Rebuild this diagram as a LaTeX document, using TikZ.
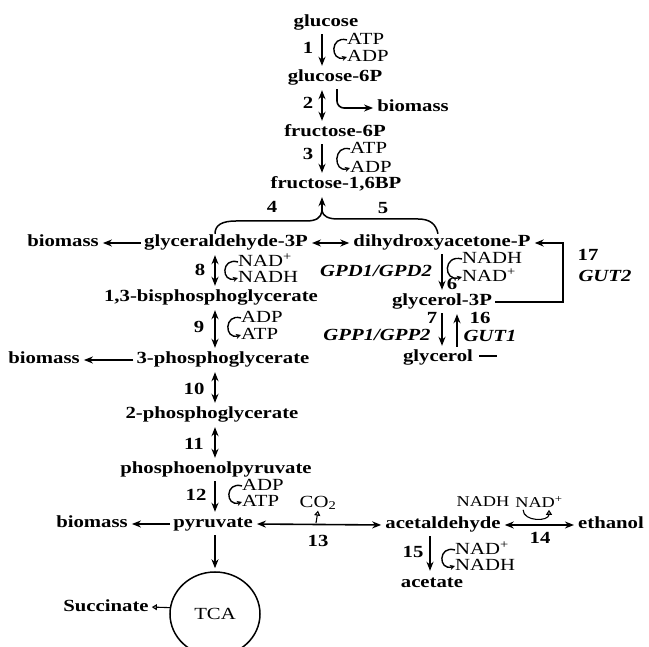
\documentclass[tikz,border=0pt]{standalone}
\usepackage{fontspec}
\setmainfont[FakeStretch=1.22]{Liberation Serif}
\usetikzlibrary{shapes,arrows.meta,calc}

\begin{document}
\fontsize{17}{20}\selectfont
\begin{tikzpicture}[x=1pt,y=1pt]
	%define styles
	\tikzset{
		met/.style={font=\bfseries, inner sep=1pt, text height=12pt, text depth=4pt},
		cof/.style={anchor=west, inner sep=0pt, text height=10pt, text depth=1pt},
		num/.style={font=\bfseries, inner sep=0pt},
		gene/.style={font=\bfseries\itshape, inner sep=0pt},
		arrow/.style={line width=1.6pt,-{Stealth[length=9pt,width=7pt]}, shorten <=2pt, shorten >=3pt},
		dblarrow/.style={line width=1.6pt,{Stealth[length=9pt,width=7pt]}-{Stealth[length=9pt,width=7pt]}, shorten <=3pt, shorten >=3pt},
		curl/.style={line width=1.4pt,-{Stealth[length=5pt,width=5pt]}},
		hollowarrow/.style={line width=1.1pt,-{Triangle[open,length=5pt,width=6pt]}},
	}
	\useasboundingbox (0,0) rectangle (649,-647);
	\clip (0,0) rectangle (649,-647);
	%spines
	\coordinate (lsp) at (215,0);
	\coordinate (msp) at (322,0);
	\coordinate (rsp) at (442,0);
	%define nodes
	\node[met] (glc) at (326,-23) {glucose};
	\node[met] (g6p) at (335,-78) {glucose-6P};
	\node[met] (f6p) at (335,-133) {fructose-6P};
	\node[met] (fbp) at (336,-185) {fructose-1,6BP};
	\node[met] (bm1) at (413,-108) {biomass};
	\node[met] (gap) at (226,-243) {glyceraldehyde-3P};
	\node[met] (dhap) at (442,-243) {dihydroxyacetone-P};
	\node[met] (bm2) at (63,-243) {biomass};
	\node[met] (bpg) at (211,-298) {1,3-bisphosphoglycerate};
	\node[met] (pg3) at (223,-360) {3-phosphoglycerate};
	\node[met] (bm3) at (44,-360) {biomass};
	\node[met] (pg2) at (212,-415) {2-phosphoglycerate};
	\node[met] (pep) at (216,-470) {phosphoenolpyruvate};
	\node[met] (pyr) at (213,-524) {pyruvate};
	\node[met] (bm4) at (92,-524) {biomass};
	\node[met] (acald) at (443,-525) {acetaldehyde};
	\node[met] (etoh) at (611,-525) {ethanol};
	\node[met] (acet) at (432,-583) {acetate};
	\node[met] (g3p) at (442,-302) {glycerol-3P};
	\node[met] (glyc) at (438,-358) {glycerol};
	\node[ellipse, draw, line width=1.5pt, minimum width=90pt, minimum height=84pt] (tca) at (215,-614) {TCA};
	\node[met] (succ) at (106,-607) {Succinate};
	%cofactors
	\node[cof] (atp1) at (347,-40) {ATP};
	\node[cof] (adp1) at (347,-57) {ADP};
	\node[cof] (atp3) at (350,-149) {ATP};
	\node[cof] (adp3) at (350,-168) {ADP};
	\node[cof] (nad8) at (238,-262) {NAD\textsuperscript{+}};
	\node[cof] (nadh8) at (238,-278) {NADH};
	\node[cof] (adp9) at (241,-318) {ADP};
	\node[cof] (atp9) at (241,-335) {ATP};
	\node[cof] (adp12) at (242,-486) {ADP};
	\node[cof] (atp12) at (242,-502) {ATP};
	\node[cof] (nadh6) at (462,-259) {NADH};
	\node[cof] (nad6) at (462,-277) {NAD\textsuperscript{+}};
	\node[cof] (nad15) at (455,-550) {NAD\textsuperscript{+}};
	\node[cof] (nadh15) at (455,-566) {NADH};
	\node[inner sep=0pt, font=\fontsize{15}{17}\selectfont] (nadh14) at (483,-502) {NADH};
	\node[inner sep=0pt, font=\fontsize{15}{17}\selectfont] (nad14) at (539,-502) {NAD\textsuperscript{+}};
	\node[inner sep=0.5pt] (co2) at (318,-503) {CO\textsubscript{2}};
	%reaction numbers and genes
	\node[num] at (308,-48) {1};
	\node[num] at (308,-103) {2};
	\node[num] at (308,-154) {3};
	\node[num] at (272,-207) {4};
	\node[num] at (383,-208) {5};
	\node[num] at (452,-284) {6};
	\node[num] at (432,-318) {7};
	\node[num] at (200,-270) {8};
	\node[num] at (199,-327) {9};
	\node[num] at (194,-389) {10};
	\node[num] at (194,-444) {11};
	\node[num] at (196,-495) {12};
	\node[num] at (318,-541) {13};
	\node[num] at (540,-538) {14};
	\node[num] at (413,-552) {15};
	\node[num] at (480,-318) {16};
	\node[num] at (588,-255) {17};
	\node[gene] at (376,-271) {GPD1/GPD2};
	\node[gene] at (377,-335) {GPP1/GPP2};
	\node[gene] at (490,-336) {GUT1};
	\node[gene] at (605,-276) {GUT2};
	%define arrows
	\draw[arrow] (glc.south -| msp) -- (g6p.north -| msp);
	\draw[dblarrow] (g6p.south -| msp) -- (f6p.north -| msp);
	\draw[arrow, rounded corners=7pt] (g6p.south -| 337,0) |- (bm1.west);
	\draw[arrow] (f6p.south -| msp) -- (fbp.north -| msp);
	\coordinate (merge) at (322,-211);
	\draw[line width=1.5pt] (gap.north -| lsp) .. controls (215,-225) and (222,-221) .. (236,-221) -- (306,-221) .. controls (316,-221) and (321,-218) .. (merge);
	\draw[line width=1.5pt] (dhap.north -| 438,0) .. controls (436,-224) and (430,-219) .. (418,-219) -- (338,-219) .. controls (328,-219) and (323,-216) .. (merge);
	\draw[arrow, shorten <=0pt] (merge) -- (fbp.south -| msp);
	\draw[arrow] (gap.west) -- (bm2.east);
	\draw[dblarrow] (gap.east) -- (dhap.west);
	\draw[dblarrow] (gap.south -| lsp) -- (bpg.north -| lsp);
	\draw[dblarrow] (bpg.south -| lsp) -- (pg3.north -| lsp);
	\draw[arrow] (pg3.west) -- (bm3.east);
	\draw[dblarrow] (pg3.south -| lsp) -- (pg2.north -| lsp);
	\draw[dblarrow] (pg2.south -| lsp) -- (pep.north -| lsp);
	\draw[arrow] (pep.south -| lsp) -- (pyr.north -| lsp);
	\draw[arrow] (pyr.west) -- (bm4.east);
	\draw[dblarrow] (pyr.east) -- (acald.west);
	\draw[dblarrow] (acald.east) -- (etoh.west);
	\draw[arrow] (acald.south -| 430,0) -- (acet.north -| 430,0);
	\draw[arrow] (pyr.south -| tca.north) -- (tca.north);
	\draw[hollowarrow, shorten >=2pt] (tca.172) -- (succ.east);
	\coordinate (co2foot) at (316,-523);
	\draw[hollowarrow] (co2foot) -- (co2.south);
	\draw[arrow] (dhap.south -| rsp) -- (g3p.north -| rsp);
	\draw[arrow] (g3p.east) -- ++(70,0) |- (dhap.east);
	\draw[arrow] (g3p.south -| rsp) -- (glyc.north -| rsp);
	\draw[arrow] (glyc.north -| 457,0) -- (g3p.south -| 457,0);
	\coordinate (gtail) at (497,-356);
	\draw[line width=1.3pt] ($(glyc.east)+(5,2)$) -- (gtail);
	%cofactor curls
	\draw[curl] (atp1.west) .. controls +(-17,5) and +(-17,-5) .. (adp1.west);
	\draw[curl] (atp3.west) .. controls +(-17,5) and +(-17,-5) .. (adp3.west);
	\draw[curl] (nad8.west) .. controls +(-17,5) and +(-17,-5) .. (nadh8.west);
	\draw[curl] (adp9.west) .. controls +(-17,5) and +(-17,-5) .. (atp9.west);
	\draw[curl] (adp12.west) .. controls +(-17,5) and +(-17,-5) .. (atp12.west);
	\draw[curl] (nadh6.west) .. controls +(-19,5) and +(-19,-5) .. (nad6.west);
	\draw[curl] (nad15.west) .. controls +(-17,5) and +(-17,-5) .. (nadh15.west);
	\draw[hollowarrow] ($(nad14.south west)+(8,-2)$) .. controls +(0,-12) and +(0,-12) .. ($(nad14.south)+(10,-2)$);
\end{tikzpicture}
\end{document}
